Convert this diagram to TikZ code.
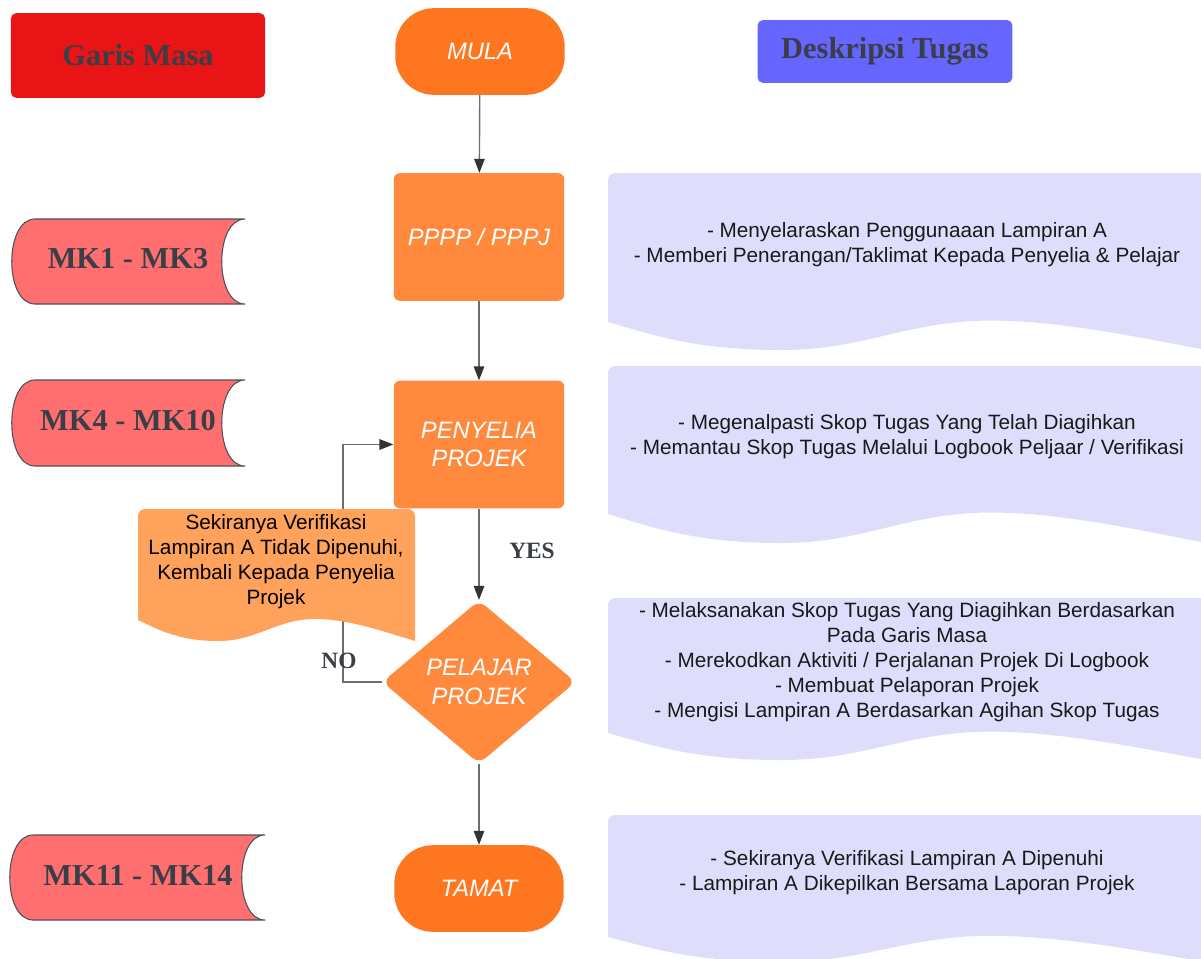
\documentclass[tikz,border=0pt]{standalone}
\usepackage{fontspec}
\setmainfont{Liberation Sans}
\newfontfamily\labelfont{Liberation Serif}
\usetikzlibrary{shapes, arrows.meta, positioning}

\definecolor{masared}{HTML}{E81416}
\definecolor{tugasblue}{HTML}{6666FF}
\definecolor{labelgray}{HTML}{3A3F47}
\definecolor{startorange}{HTML}{FF7620}
\definecolor{boxorange}{HTML}{FF8A3D}
\definecolor{noteorange}{HTML}{FFA25C}
\definecolor{periodred}{HTML}{FF6F6F}
\definecolor{edgegray}{HTML}{4A505C}
\definecolor{docblue}{HTML}{DEDEFC}
\definecolor{linegray}{HTML}{6E6E6E}
\definecolor{tipgray}{HTML}{333333}

% week band: x1, y1, x2, y2
\newcommand{\weekband}[4]{%
\filldraw [fill=periodred, draw=edgegray, line width=0.6pt] ({#1+23},#2) -- (#3,#2) .. controls ({#3-31},#2) and ({#3-31},#4) .. (#3,#4) -- ({#1+23},#4) .. controls ({#1-8},#4) and ({#1-8},#2) .. ({#1+23},#2) -- cycle;}

% wavy document: colour, x1, y1, x2, left bottom, wave depth
\newcommand{\wavedoc}[6]{%
\fill [#1] (#2,#5) [rounded corners=4pt] -- (#2,#3) -- (#4,#3) [sharp corners] -- (#4,{#5+#6})
 .. controls ({#2+0.9*(#4-#2)},{#5+0.6*#6}) and ({#2+0.76*(#4-#2)},{#5-0.05*#6}) .. ({#2+0.64*(#4-#2)},{#5-0.05*#6})
 .. controls ({#2+0.5*(#4-#2)},{#5-0.05*#6}) and ({#2+0.43*(#4-#2)},{#5+#6}) .. ({#2+0.29*(#4-#2)},{#5+#6})
 .. controls ({#2+0.15*(#4-#2)},{#5+#6}) and ({#2+0.08*(#4-#2)},{#5+0.5*#6}) .. (#2,#5) -- cycle;}

\begin{document}
\begin{tikzpicture}[x=0.2mm, y=-0.2mm,
  flow/.style={draw=linegray, line width=0.8pt, -{Triangle[length=8pt,width=6pt,color=tipgray]}},
  terminal/.style={rectangle, rounded corners=22pt, fill=startorange, minimum width=96.4pt, minimum height=49.3pt, text=white, font=\itshape\fontsize{13.5}{16.4}\selectfont, align=center},
  process/.style={rectangle, rounded corners=3.5pt, fill=boxorange, minimum width=97pt, minimum height=72.6pt, text=white, font=\itshape\fontsize{13.5}{16.4}\selectfont, align=center},
  decision/.style={diamond, aspect=1.18, rounded corners=5pt, fill=boxorange, inner sep=0pt, minimum width=110pt, minimum height=93pt, text=white, font=\itshape\fontsize{13.5}{16.4}\selectfont, align=center},
  header/.style={rectangle, rounded corners=3pt, text=labelgray, font=\labelfont\bfseries\fontsize{17.3}{20}\selectfont},
  period/.style={text=labelgray, font=\labelfont\bfseries\fontsize{17.3}{20}\selectfont},
  answer/.style={text=labelgray, font=\labelfont\bfseries\fontsize{13.3}{16}\selectfont},
  desc/.style={align=center, text=black!90, font=\fontsize{11.8}{14.2}\selectfont}]
\clip (0,0) rectangle (1201,958);

% headers
\node [header, fill=masared, minimum width=144.6pt, minimum height=48.2pt] (garis) at (138,55.5) {Garis Masa};
\node [header, fill=tugasblue, minimum width=145pt, minimum height=35.7pt] (tugas) at (885,51.5) {Deskripsi Tugas};

% time line
\weekband{12}{219}{245}{304}
\node [period] (mk1) at (128,259) {MK1 - MK3};
\weekband{12}{380}{245}{466}
\node [period] (mk4) at (128,421) {MK4 - MK10};
\weekband{10}{835}{265}{920}
\node [period] (mk11) at (138,875) {MK11 - MK14};

% task descriptions
\wavedoc{docblue}{608}{173}{1206}{322}{28}
\node [desc] (desc1) at (907,244.5) {- Menyelaraskan Penggunaaan Lampiran A\\- Memberi Penerangan/Taklimat Kepada Penyelia \& Pelajar};
\wavedoc{docblue}{608}{366}{1206}{514}{29}
\node [desc] (desc2) at (907,437) {- Megenalpasti Skop Tugas Yang Telah Diagihkan\\- Memantau Skop Tugas Melalui Logbook Peljaar / Verifikasi};
\wavedoc{docblue}{608}{598}{1206}{733}{27}
\node [desc] (desc3) at (907,662) {- Melaksanakan Skop Tugas Yang Diagihkan Berdasarkan\\Pada Garis Masa\\- Merekodkan Aktiviti / Perjalanan Projek Di Logbook\\- Membuat Pelaporan Projek\\- Mengisi Lampiran A Berdasarkan Agihan Skop Tugas};
\wavedoc{docblue}{608}{815}{1206}{937}{25}
\node [desc] (desc4) at (907,872.5) {- Sekiranya Verifikasi Lampiran A Dipenuhi\\- Lampiran A Dikepilkan Bersama Laporan Projek};

% flow
\node [terminal] (mula) at (480,51.5) {MULA};
\node [process] (pppp) at (479,237) {PPPP / PPPJ};
\node [process] (penyelia) at (479,444.5) {PENYELIA\\PROJEK};
\node [decision] (pelajar) at (479,682) {PELAJAR\\PROJEK};
\node [terminal] (tamat) at (479,888.5) {TAMAT};

\draw [flow] (mula) -- (pppp);
\draw [flow] (pppp) -- (penyelia);
\draw [flow] (penyelia) -- (pelajar);
\draw [flow] (pelajar) -- (tamat);
\coordinate (noturn) at (343,682);
\draw [flow] (pelajar.west) -- (noturn) |- (penyelia.west);

\node [answer] (yes) at (532,551) {YES};

% note over the loop
\wavedoc{noteorange}{138}{509}{415}{620}{21}
\node [desc, text=black] (note) at (276,561.5) {Sekiranya Verifikasi\\Lampiran A Tidak Dipenuhi,\\Kembali Kepada Penyelia\\Projek};
\node [answer] (no) at (339,661) {NO};
\end{tikzpicture}
\end{document}
